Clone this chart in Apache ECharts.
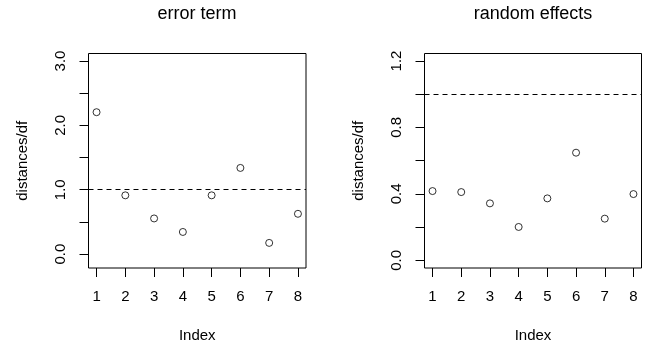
<!DOCTYPE html>
<html>
<head>
<meta charset="utf-8">
<script src="https://cdn.jsdelivr.net/npm/echarts@6/dist/echarts.min.js"></script>
<style>
html,body{margin:0;padding:0;background:#fff;}
#chart{width:647px;height:348px;}
</style>
</head>
<body>
<div id="chart"></div>
<script>
const indexValues = [1, 2, 3, 4, 5, 6, 7, 8];
const errorTerm = [2.205, 0.913, 0.554, 0.344, 0.913, 1.339, 0.174, 0.626];
const randomEffects = [0.417, 0.411, 0.343, 0.201, 0.373, 0.648, 0.251, 0.399];
const titles = ['error term', 'random effects'];
const xTicks = [1, 2, 3, 4, 5, 6, 7, 8];
const leftYTicks = [0, 0.5, 1, 1.5, 2, 2.5, 3];
const leftYLabels = [0, 1, 2, 3];
const rightYTicks = [0, 0.2, 0.4, 0.6, 0.8, 1.0, 1.2];
const rightYLabels = [0, 0.4, 0.8, 1.2];
const refLine = 1;

const FONT = 'Liberation Sans, Arial, Helvetica, sans-serif';
const chart = echarts.init(document.getElementById('chart'), null, {renderer: 'canvas'});

function xAxis(gi) {
  return {
    type: 'value', gridIndex: gi, min: 0.72, max: 8.28,
    name: 'Index', nameLocation: 'middle', nameGap: 60,
    nameTextStyle: {fontFamily: FONT, fontSize: 15, color: '#000'},
    axisLine: {show: false, onZero: false},
    splitLine: {show: false},
    axisTick: {show: true, inside: false, length: 9, customValues: xTicks,
      lineStyle: {color: '#000', width: 1}},
    axisLabel: {show: true, customValues: xTicks, margin: 21,
      fontFamily: FONT, fontSize: 15, color: '#000',
      formatter: v => String(v)}
  };
}
function yAxis(gi, min, max, ticks, labels) {
  return {
    type: 'value', gridIndex: gi, min: min, max: max,
    name: 'distances/df', nameLocation: 'middle', nameGap: 58,
    nameTextStyle: {fontFamily: FONT, fontSize: 15, color: '#000'},
    axisLine: {show: false, onZero: false},
    splitLine: {show: false},
    axisTick: {show: true, inside: false, length: 9, customValues: ticks,
      lineStyle: {color: '#000', width: 1}},
    axisLabel: {show: true, customValues: labels, margin: 20, rotate: 90,
      fontFamily: FONT, fontSize: 15, color: '#000',
      formatter: v => Number(v).toFixed(1)}
  };
}
function series(gi, vals) {
  return {
    type: 'scatter', xAxisIndex: gi, yAxisIndex: gi,
    data: indexValues.map((x, i) => [x, vals[i]]),
    symbol: 'circle', symbolSize: 7,
    itemStyle: {color: 'transparent', borderColor: '#000', borderWidth: 1},
    silent: true,
    markLine: {
      silent: true, symbol: 'none', label: {show: false},
      lineStyle: {color: '#000', width: 1, type: [5, 4]},
      data: [{yAxis: refLine}]
    }
  };
}

chart.setOption({
  animation: false,
  backgroundColor: '#fff',
  title: [
    {text: titles[0], left: 197, top: 5, textAlign: 'center', padding: 0,
     textStyle: {fontFamily: FONT, fontSize: 18, fontWeight: 'normal', color: '#000'}},
    {text: titles[1], left: 533, top: 5, textAlign: 'center', padding: 0,
     textStyle: {fontFamily: FONT, fontSize: 18, fontWeight: 'normal', color: '#000'}}
  ],
  grid: [
    {left: 88.5, top: 53.5, width: 217.5, height: 216.5, show: true,
     borderColor: '#000', borderWidth: 1, backgroundColor: 'transparent'},
    {left: 424.5, top: 53.5, width: 217, height: 216.5, show: true,
     borderColor: '#000', borderWidth: 1, backgroundColor: 'transparent'}
  ],
  xAxis: [xAxis(0), xAxis(1)],
  yAxis: [
    yAxis(0, -0.216, 3.117, leftYTicks, leftYLabels),
    yAxis(1, -0.046, 1.245, rightYTicks, rightYLabels)
  ],
  series: [series(0, errorTerm), series(1, randomEffects)]
});
</script>
</body>
</html>
